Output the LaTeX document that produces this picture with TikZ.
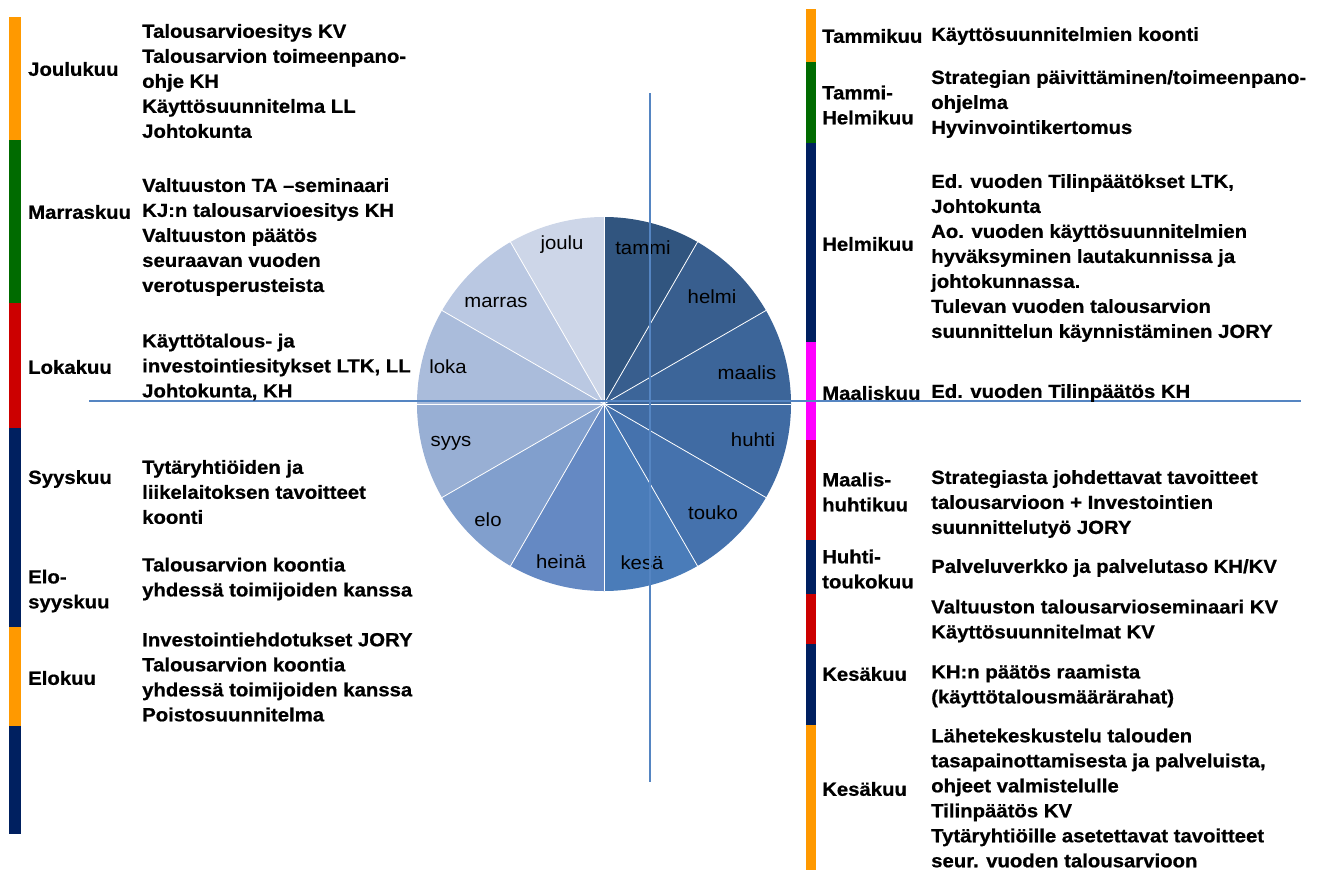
\documentclass[tikz,border=0pt]{standalone}
\usepackage{fontspec}
\setmainfont{Liberation Sans}[FakeStretch=1.07,BoldFeatures={FakeBold=0.7}]
\definecolor{barorange}{HTML}{FF9900}
\definecolor{bargreen}{HTML}{006B00}
\definecolor{barred}{HTML}{CC0000}
\definecolor{barnavy}{HTML}{002060}
\definecolor{barmag}{HTML}{FF00FF}
\definecolor{axisblue}{HTML}{5585C2}
\definecolor{s0}{HTML}{31557F}
\definecolor{s1}{HTML}{385E8E}
\definecolor{s2}{HTML}{3C6599}
\definecolor{s3}{HTML}{406BA3}
\definecolor{s4}{HTML}{4572AD}
\definecolor{s5}{HTML}{4A7CB9}
\definecolor{s6}{HTML}{6589C3}
\definecolor{s7}{HTML}{819FCD}
\definecolor{s8}{HTML}{98AFD4}
\definecolor{s9}{HTML}{AABCDB}
\definecolor{s10}{HTML}{BAC8E2}
\definecolor{s11}{HTML}{CDD6E8}
\tikzset{
  month/.style={anchor=west,inner sep=0pt,align=left,font=\fontsize{19}{25}\selectfont\bfseries},
  task/.style={anchor=west,inner sep=0pt,align=left,font=\fontsize{19}{25}\selectfont\bfseries},
  slicelabel/.style={inner sep=0pt,font=\fontsize{19}{22}\selectfont},
  axisline/.style={draw=axisblue,line width=1.6pt},
}
\begin{document}
\begin{tikzpicture}[x=1pt,y=-1pt]
\useasboundingbox (0,0) rectangle (1339,870);
% left colour bar
\fill[barorange] (9,17) rectangle (21,140);
\fill[bargreen] (9,140) rectangle (21,303);
\fill[barred] (9,303) rectangle (21,428);
\fill[barnavy] (9,428) rectangle (21,627);
\fill[barorange] (9,627) rectangle (21,726);
\fill[barnavy] (9,726) rectangle (21,834);
% right colour bar
\fill[barorange] (806,9) rectangle (816,62);
\fill[bargreen] (806,62) rectangle (816,143);
\fill[barnavy] (806,143) rectangle (816,342);
\fill[barmag] (806,342) rectangle (816,440);
\fill[barred] (806,440) rectangle (816,540);
\fill[barnavy] (806,540) rectangle (816,594);
\fill[barred] (806,594) rectangle (816,644);
\fill[barnavy] (806,644) rectangle (816,725);
\fill[barorange] (806,725) rectangle (816,880);
% pie
\coordinate (c) at (604,404);
\foreach \i in {0,...,11}{
  \pgfmathsetmacro{\a}{-90+30*\i}
  \pgfmathsetmacro{\b}{-60+30*\i}
  \fill[s\i] (c) -- ++(\a:187) arc[start angle=\a,end angle=\b,radius=187] -- cycle;
}
\foreach \i in {0,...,11}{
  \draw[white,line width=0.8pt] (c) -- ++(-90+30*\i:187);
}
\node[slicelabel] (l1) at (643,248) {tammi};
\node[slicelabel] (l2) at (712,297) {helmi};
\node[slicelabel] (l3) at (747,373) {maalis};
\node[slicelabel] (l4) at (753,440) {huhti};
\node[slicelabel] (l5) at (713,513) {touko};
\node[slicelabel] (l6) at (642,563) {kesä};
\node[slicelabel] (l7) at (561,562) {heinä};
\node[slicelabel] (l8) at (488,520) {elo};
\node[slicelabel] (l9) at (451,443) {syys};
\node[slicelabel] (l10) at (448,367) {loka};
\node[slicelabel] (l11) at (496,302) {marras};
\node[slicelabel] (l12) at (562,245) {joulu};
% axes
\coordinate (hl) at (89,401);
\coordinate (hr) at (1301,401);
\coordinate (vt) at (650,93);
\coordinate (vb) at (650,782);
\draw[axisline] (hl) -- (hr);
\draw[axisline] (vt) -- (vb);
% left column
\node[month] (m12) at (28,69) {Joulukuu};
\node[task] (t12) at (142,81) {Talousarvioesitys KV\\Talousarvion toimeenpano-\\ohje KH\\Käyttösuunnitelma LL\\Johtokunta};
\node[month] (m11) at (28,212) {Marraskuu};
\node[task] (t11) at (142,237) {Valtuuston TA –seminaari\\KJ:n talousarvioesitys KH\\Valtuuston päätös\\seuraavan vuoden\\verotusperusteista};
\node[month] (m10) at (28,367) {Lokakuu};
\node[task] (t10) at (142,367) {Käyttötalous- ja\\investointiesitykset LTK, LL\\Johtokunta, KH};
\node[month] (m9) at (28,479) {Syyskuu};
\node[task] (t9) at (142,492) {Tytäryhtiöiden ja\\liikelaitoksen tavoitteet\\koonti};
\node[month] (m89) at (28,591) {Elo-\\syyskuu};
\node[task] (t89) at (142,579) {Talousarvion koontia\\yhdessä toimijoiden kanssa};
\node[month] (m8) at (28,678) {Elokuu};
\node[task] (t8) at (142,677) {Investointiehdotukset JORY\\Talousarvion koontia\\yhdessä toimijoiden kanssa\\Poistosuunnitelma};
% right column
\node[month] (m1) at (822,36) {Tammikuu};
\node[task] (t1) at (931,36) {Käyttösuunnitelmien koonti};
\node[month] (m12b) at (822,105) {Tammi-\\Helmikuu};
\node[task] (t12b) at (931,104) {Strategian päivittäminen/toimeenpano-\\ohjelma\\Hyvinvointikertomus};
\node[month] (m2) at (822,244) {Helmikuu};
\node[task] (t2) at (931,258) {Ed. vuoden Tilinpäätökset LTK,\\Johtokunta\\Ao. vuoden käyttösuunnitelmien\\hyväksyminen lautakunnissa ja\\johtokunnassa.\\Tulevan vuoden talousarvion\\suunnittelun käynnistäminen JORY};
\node[month] (m3) at (822,393) {Maaliskuu};
\node[task] (t3) at (931,393) {Ed. vuoden Tilinpäätös KH};
\node[month] (m34) at (822,492) {Maalis-\\huhtikuu};
\node[task] (t34) at (931,504) {Strategiasta johdettavat tavoitteet\\talousarvioon + Investointien\\suunnittelutyö JORY};
\node[month] (m45) at (822,569) {Huhti-\\toukokuu};
\node[task] (t45) at (931,568) {Palveluverkko ja palvelutaso KH/KV};
\node[task] (t5) at (931,621) {Valtuuston talousarvioseminaari KV\\Käyttösuunnitelmat KV};
\node[month] (m6) at (822,674) {Kesäkuu};
\node[task] (t6) at (931,686) {KH:n päätös raamista\\(käyttötalousmäärärahat)};
\node[month] (m6b) at (822,789) {Kesäkuu};
\node[task] (t6b) at (931,798) {Lähetekeskustelu talouden\\tasapainottamisesta ja palveluista,\\ohjeet valmistelulle\\Tilinpäätös KV\\Tytäryhtiöille asetettavat tavoitteet\\seur. vuoden talousarvioon};
\end{tikzpicture}
\end{document}
